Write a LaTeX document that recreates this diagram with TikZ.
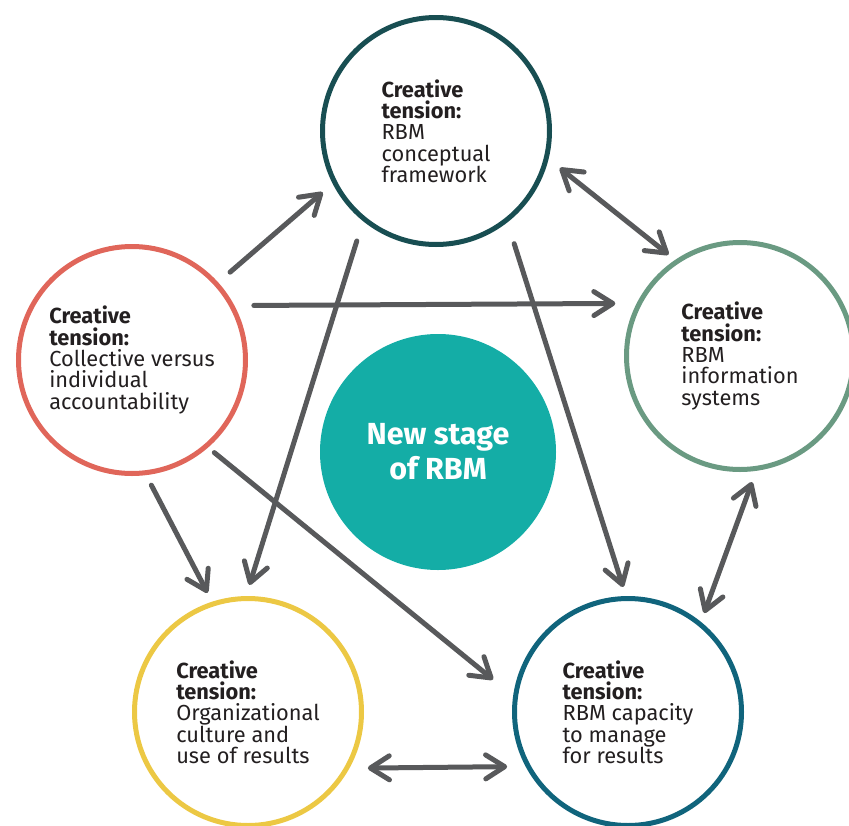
\documentclass[tikz,border=0pt]{standalone}
\usepackage{fontspec}
\setmainfont{Fira Sans}
\usepackage{tikz}
\usetikzlibrary{arrows.meta}

\definecolor{rbmtop}{RGB}{24,78,82}
\definecolor{rbmleft}{RGB}{224,102,90}
\definecolor{rbmright}{RGB}{106,154,130}
\definecolor{rbmculture}{RGB}{236,200,68}
\definecolor{rbmcapacity}{RGB}{16,100,124}
\definecolor{rbmcore}{RGB}{20,173,166}
\definecolor{arrowgray}{RGB}{88,89,91}
\definecolor{textdark}{RGB}{35,31,32}

\begin{document}
\begin{tikzpicture}[x=1pt, y=-1pt]
    \tikzstyle{ring} = [circle, draw, line width=5pt, inner sep=0pt, minimum size=227pt, align=left, text=textdark, font=\fontsize{21.8}{21.3}\selectfont]
    \tikzstyle{hub} = [circle, fill=rbmcore, inner sep=0pt, minimum size=236pt, align=center, text=white, font=\bfseries\fontsize{30.5}{35}\selectfont]
    \tikzstyle{link} = [draw=arrowgray, line width=5pt, line cap=round]
    \tikzset{barb/.tip={Straight Barb[length=19pt, width=24pt, round]}}

    \useasboundingbox (0,0) rectangle (849,825);

    % Circles
    \node[ring, draw=rbmtop] (top) at (436,131) {\textbf{Creative}\\\textbf{tension:}\\RBM\\conceptual\\framework};
    \node[ring, draw=rbmleft] (left) at (132,360) {\textbf{Creative}\\\textbf{tension:}\\Collective versus\\individual\\accountability};
    \node[ring, draw=rbmright] (right) at (740,356) {\textbf{Creative}\\\textbf{tension:}\\RBM\\information\\systems};
    \node[ring, draw=rbmculture] (culture) at (248,712) {\textbf{Creative}\\\textbf{tension:}\\Organizational\\culture and\\use of results};
    \node[ring, draw=rbmcapacity] (capacity) at (628,712) {\textbf{Creative}\\\textbf{tension:}\\RBM capacity\\to manage\\for results};
    \node[hub] (stage) at (438,452) {New stage\\of RBM};

    % Arrows
    \draw[link, -barb, shorten <=15.7pt, shorten >=13.2pt] (left.42.1) -- (top.207.4);
    \draw[link, -barb, shorten <=19.4pt, shorten >=21.3pt] (left.28.9) -- (right.153.4);
    \draw[link, barb-barb, shorten <=14.4pt, shorten >=8.4pt] (top.346.6) -- (right.124.4);
    \draw[link, -barb, shorten <=20.8pt, shorten >=11.6pt] (top.231.8) -- (culture.91.2);
    \draw[link, -barb, shorten <=22.3pt, shorten >=9.5pt] (top.308.6) -- (capacity.91.6);
    \draw[link, -barb, shorten <=11.3pt, shorten >=10pt] (left.277.9) -- (culture.108.3);
    \draw[link, -barb, shorten <=8pt, shorten >=25.9pt] (left.311.5) -- (capacity.172.3);
    \draw[link, barb-barb, shorten <=11.9pt, shorten >=9.4pt] (right.278) -- (capacity.51.8);
    \draw[link, barb-barb, shorten <=18.4pt, shorten >=18.4pt] (culture.331.1) -- (capacity.208.9);

\end{tikzpicture}
\end{document}
